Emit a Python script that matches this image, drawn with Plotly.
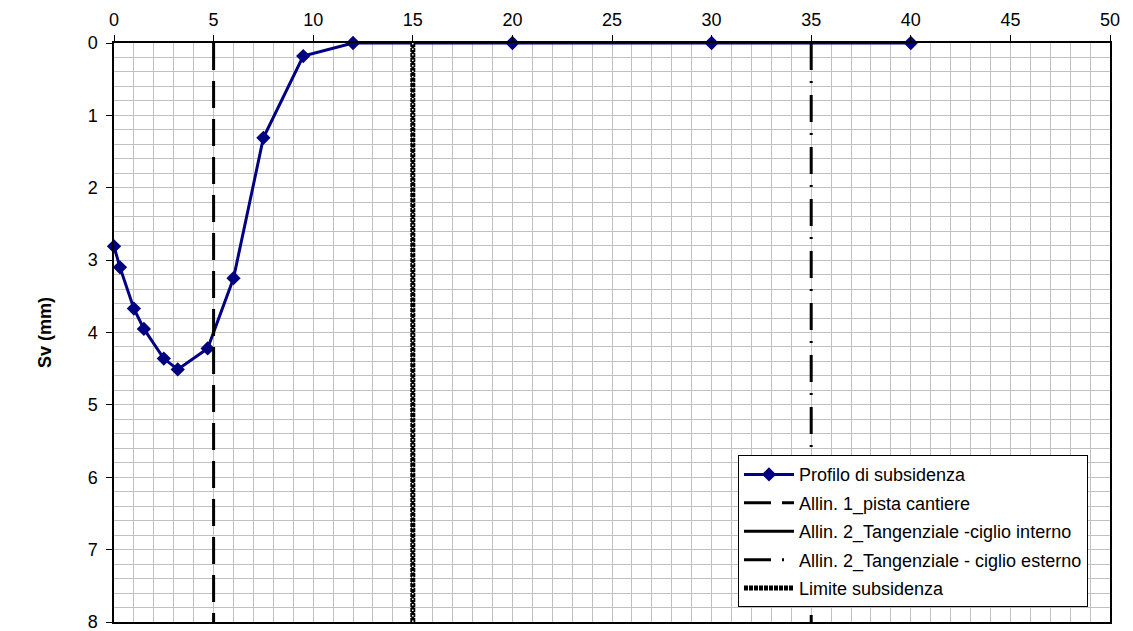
import plotly.graph_objects as go

# Data
dist = [0, 0.3, 1.0, 1.5, 2.5, 3.2, 4.7, 6.0, 7.5, 9.5, 12, 20, 30, 40]
sv = [2.81, 3.10, 3.67, 3.95, 4.36, 4.51, 4.22, 3.25, 1.31, 0.18, 0, 0, 0, 0]

x_pista = 5
x_interno = 15
x_esterno = 35
x_limite = 15
y_span = [0, 8]

x_ticks = list(range(0, 55, 5))
y_ticks = list(range(0, 9))

FONT = "Arial, Liberation Sans, sans-serif"

fig = go.Figure()

fig.add_trace(go.Scatter(
    x=dist, y=sv, mode="lines+markers", name="Profilo di subsidenza",
    line=dict(color="#000080", width=3),
    marker=dict(symbol="diamond", size=11, color="#000080"),
    cliponaxis=False, legendgroup="a",
))
fig.add_trace(go.Scatter(
    x=[x_pista, x_pista], y=y_span, mode="lines", name="Allin. 1_pista cantiere",
    line=dict(color="black", width=3, dash="27px,11px"), legendgroup="b",
))
fig.add_trace(go.Scatter(
    x=[x_interno, x_interno], y=y_span, mode="lines", name="Allin. 2_Tangenziale -ciglio interno",
    line=dict(color="black", width=3), legendgroup="c",
))
fig.add_trace(go.Scatter(
    x=[x_esterno, x_esterno], y=y_span, mode="lines", name="Allin. 2_Tangenziale - ciglio esterno",
    line=dict(color="black", width=3, dash="27px,11px,2px,12px"), legendgroup="d",
))
fig.add_trace(go.Scatter(
    x=[x_limite, x_limite], y=y_span, mode="lines", name="Limite subsidenza",
    line=dict(color="black", width=5, dash="4px,1px"), legendgroup="e",
))
# white dotted centre of the "Limite subsidenza" pattern
fig.add_trace(go.Scatter(
    x=[x_limite, x_limite], y=y_span, mode="lines", showlegend=False,
    line=dict(color="white", width=1.5, dash="1.5px,4px"), hoverinfo="skip",
))

axis_common = dict(
    showline=True, linecolor="black", linewidth=1.5, mirror=True,
    ticks="outside", ticklen=6, tickcolor="black", tickwidth=1,
    showgrid=True, gridcolor="#c0c0c0", gridwidth=1,
    zeroline=False, automargin=False,
    tickfont=dict(family=FONT, size=18, color="black"),
)

fig.update_xaxes(
    range=[0, 50], side="top", tickvals=x_ticks, ticklabelstandoff=2,
    minor=dict(dtick=1, showgrid=True, gridcolor="#c0c0c0", gridwidth=1),
    **axis_common,
)
fig.update_yaxes(
    range=[8, 0], tickvals=y_ticks, ticklabelstandoff=5,
    minor=dict(dtick=0.2, showgrid=True, gridcolor="#c0c0c0", gridwidth=1),
    title=dict(text="<b>Sv (mm)</b>", font=dict(family=FONT, size=18, color="black"), standoff=31),
    **axis_common,
)

# the page body adds an 8px offset, compensated in the margins
fig.update_layout(
    width=1133, height=631,
    margin=dict(l=106, r=31, t=35, b=17),
    plot_bgcolor="white", paper_bgcolor="white",
    showlegend=True,
    legend=dict(
        x=0.6265, y=0.288, xanchor="left", yanchor="top",
        bgcolor="white", bordercolor="black", borderwidth=1,
        font=dict(family=FONT, size=18, color="black"),
        tracegroupgap=2, itemwidth=50,
    ),
)

fig.write_html("out.html")
